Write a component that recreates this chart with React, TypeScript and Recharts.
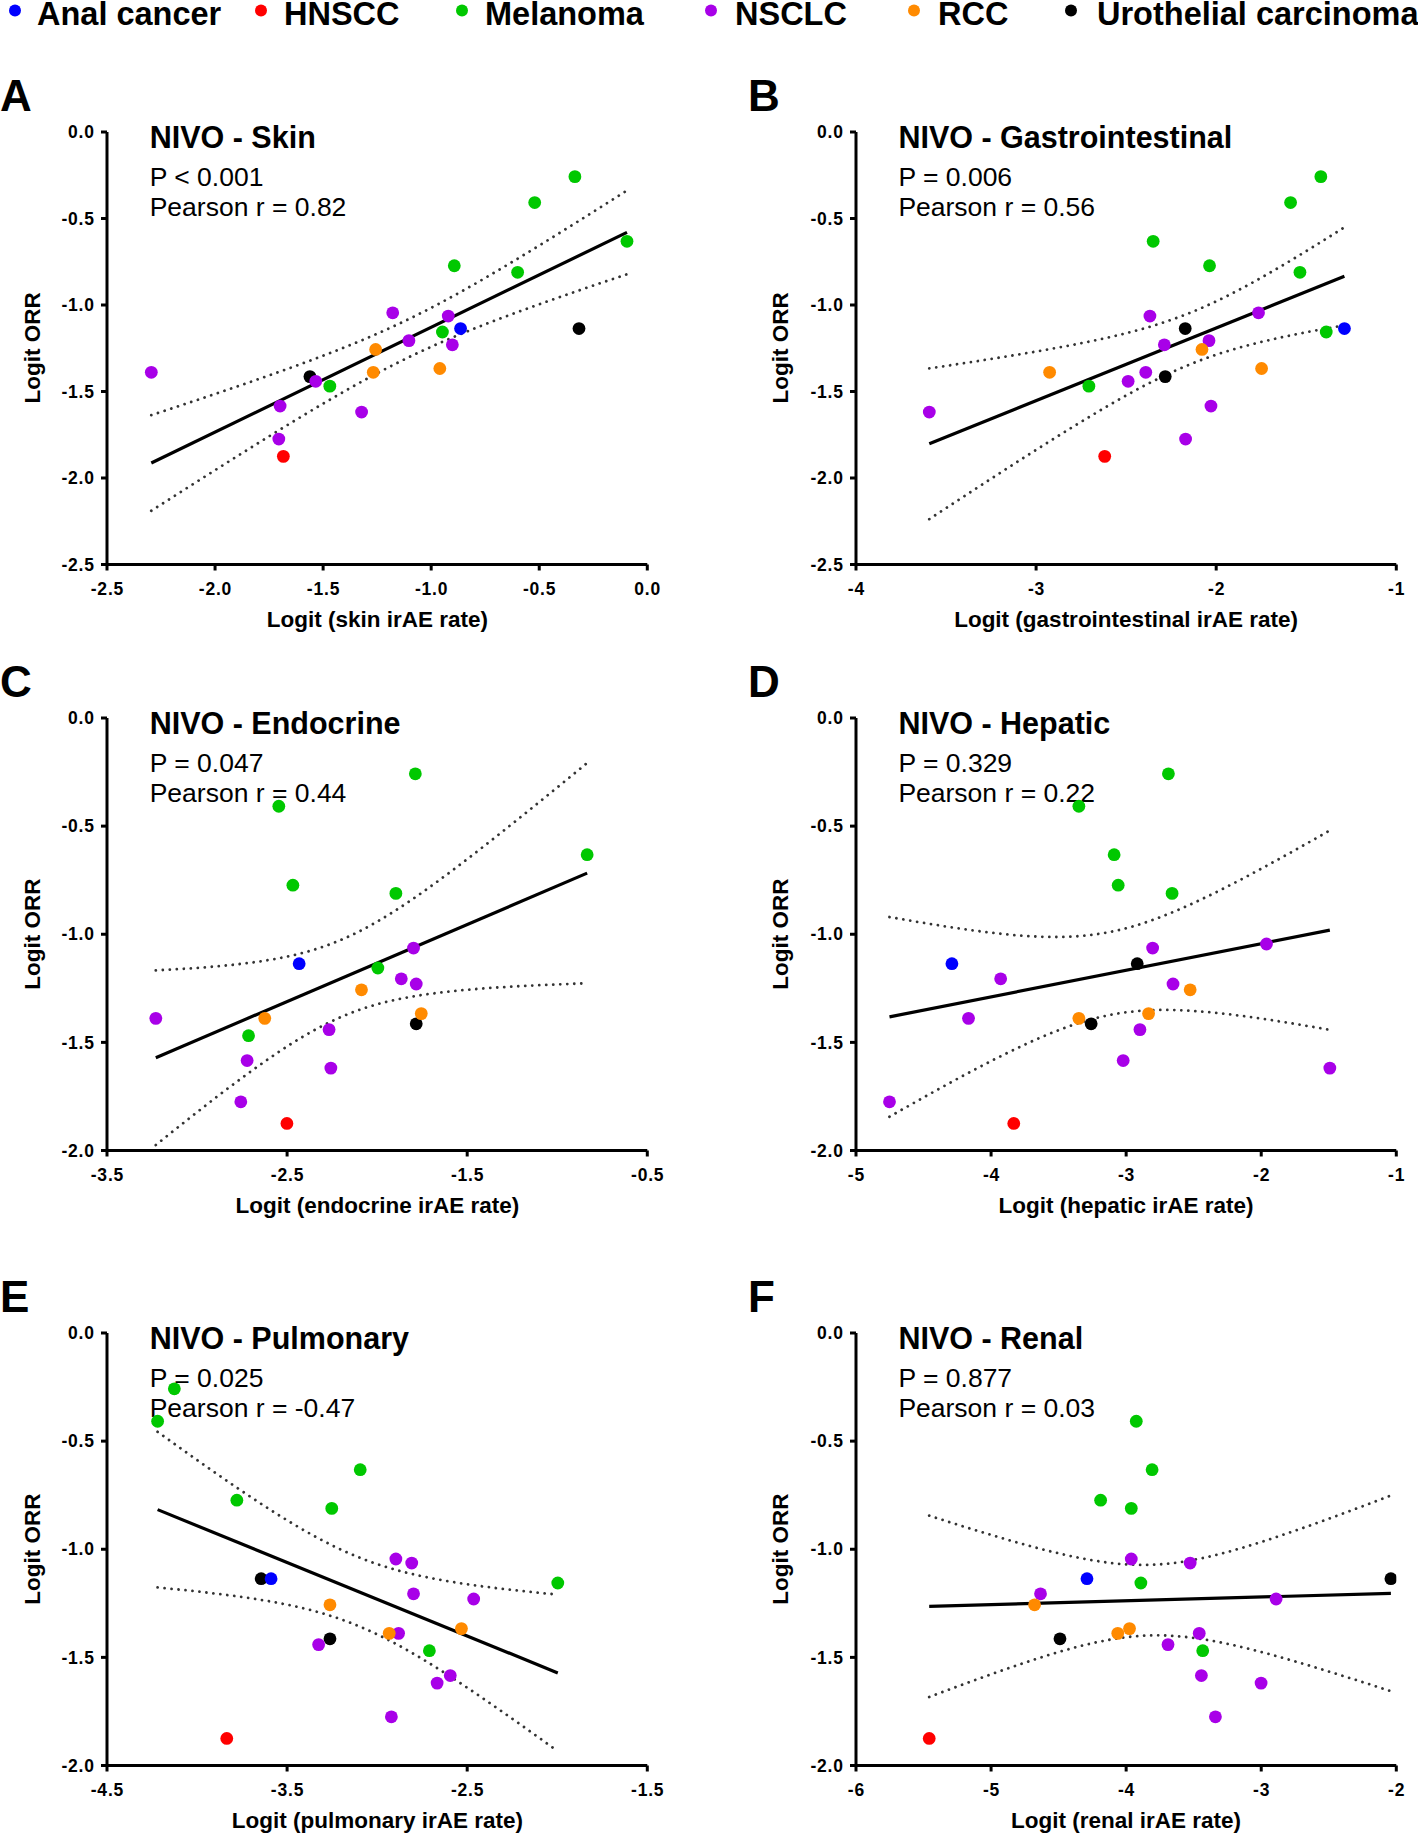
import React from 'react';
import { ScatterChart, Scatter, XAxis, YAxis } from 'recharts';

// ---------- DATA ----------
const GROUPS = ['Anal cancer', 'HNSCC', 'Melanoma', 'NSCLC', 'RCC', 'Urothelial carcinoma'];
const GROUP_COLORS = ['#0000FF', '#FF0000', '#00C800', '#A800E8', '#FF8A00', '#000000'];
// drawing order of the groups (black underneath)
const DRAW_ORDER = ['Urothelial carcinoma', 'Anal cancer', 'HNSCC', 'Melanoma', 'NSCLC', 'RCC'];

// one entry per trial
const TRIAL_GROUP = [
  'NSCLC', 'NSCLC', 'NSCLC', 'NSCLC', 'NSCLC', 'NSCLC', 'NSCLC', 'NSCLC', 'NSCLC',
  'Melanoma', 'Melanoma', 'Melanoma', 'Melanoma', 'Melanoma', 'Melanoma', 'Melanoma',
  'RCC', 'RCC', 'RCC',
  'Urothelial carcinoma', 'Urothelial carcinoma',
  'HNSCC',
  'Anal cancer',
];
const LOGIT_ORR = [
  -1.389, -1.441, -1.584, -1.775, -1.619, -1.045, -1.206, -1.064, -1.230,
  -1.469, -1.156, -0.773, -0.811, -0.408, -0.258, -0.632,
  -1.257, -1.389, -1.367,
  -1.414, -1.136,
  -1.875,
  -1.136,
];
const SKIN_X = [
  -2.295, -1.534, -1.699, -1.705, -1.322, -1.178, -1.103, -0.921, -0.902,
  -1.469, -0.948, -0.893, -0.600, -0.521, -0.335, -0.094,
  -1.257, -1.268, -0.960,
  -1.561, -0.316,
  -1.684,
  -0.864,
];
const GI_X = [
  -2.391, -2.489, -2.029, -2.170, -3.593, -1.765, -2.040, -2.368, -2.288,
  -2.707, -1.389, -2.037, -1.535, -1.587, -1.419, -2.350,
  -2.079, -2.925, -1.748,
  -2.283, -2.172,
  -2.619,
  -1.288,
];
const ENDO_X = [
  -3.229, -2.267, -2.722, -2.757, -2.257, null, -1.866, -1.798, -1.783,
  -2.714, -1.996, -2.468, -1.896, -2.546, -1.788, -0.834,
  -2.087, -2.624, -1.755,
  -1.783, null,
  -2.501,
  -2.433,
];
const HEP_X = [
  -4.167, -2.898, -3.022, -4.752, -1.492, -1.961, -3.929, -2.804, -2.653,
  null, null, -3.059, -2.660, -3.350, -2.687, -3.089,
  -2.526, -3.350, -2.834,
  -3.259, -2.918,
  -3.832,
  -4.290,
];
const PULM_X = [
  -2.881, -3.325, -2.594, -2.921, -2.667, -2.896, -2.798, -2.808, -2.464,
  -2.710, -1.997, -3.779, -3.252, -4.219, -4.126, -3.094,
  -3.262, -2.933, -2.532,
  -3.262, -3.644,
  -3.835,
  -3.589,
];
const RENAL_X = [
  -3.459, -3.690, -3.443, -3.339, -3.001, -3.962, -4.634, -3.526, -2.890,
  -3.433, -3.891, -4.189, -3.962, -3.925, null, -3.808,
  -4.678, -4.062, -3.975,
  -4.490, -2.040,
  -5.458,
  -4.290,
];

const X_TICKS_SKIN = [-2.5, -2, -1.5, -1, -0.5, 0];
const X_TICKS_GI = [-4, -3, -2, -1];
const X_TICKS_ENDO = [-3.5, -2.5, -1.5, -0.5];
const X_TICKS_HEP = [-5, -4, -3, -2, -1];
const X_TICKS_PULM = [-4.5, -3.5, -2.5, -1.5];
const X_TICKS_RENAL = [-6, -5, -4, -3, -2];
const Y_TICKS_TOP = [0, -0.5, -1, -1.5, -2, -2.5];
const Y_TICKS_LOW = [0, -0.5, -1, -1.5, -2];

const PANEL_LETTERS = ['A', 'B', 'C', 'D', 'E', 'F'];
const PANEL_TITLES = ['NIVO - Skin', 'NIVO - Gastrointestinal', 'NIVO - Endocrine', 'NIVO - Hepatic', 'NIVO - Pulmonary', 'NIVO - Renal'];
const P_TEXT = ['P < 0.001', 'P = 0.006', 'P = 0.047', 'P = 0.329', 'P = 0.025', 'P = 0.877'];
const R_TEXT = ['Pearson r = 0.82', 'Pearson r = 0.56', 'Pearson r = 0.44', 'Pearson r = 0.22', 'Pearson r = -0.47', 'Pearson r = 0.03'];
const X_LABELS = [
  'Logit (skin irAE rate)',
  'Logit (gastrointestinal irAE rate)',
  'Logit (endocrine irAE rate)',
  'Logit (hepatic irAE rate)',
  'Logit (pulmonary irAE rate)',
  'Logit (renal irAE rate)',
];
const PANEL_X = [SKIN_X, GI_X, ENDO_X, HEP_X, PULM_X, RENAL_X];
const PANEL_X_TICKS = [X_TICKS_SKIN, X_TICKS_GI, X_TICKS_ENDO, X_TICKS_HEP, X_TICKS_PULM, X_TICKS_RENAL];
const PANEL_X_DIGITS = [1, 0, 1, 0, 1, 0];
const PANEL_Y_TICKS = [Y_TICKS_TOP, Y_TICKS_TOP, Y_TICKS_LOW, Y_TICKS_LOW, Y_TICKS_LOW, Y_TICKS_LOW];

// two-sided 95% t critical values by degrees of freedom
const T975: Record<number, number> = { 18: 2.101, 19: 2.093, 20: 2.086, 21: 2.080, 22: 2.074 };

// ---------- LAYOUT ----------
const FONT = "'Liberation Sans', Arial, Helvetica, sans-serif";
const COL_LEFT = [107.2, 855.9];
const ROW_TOP = [131.7, 717.8, 1332.8];
const PLOT_W = 540.3;
const PLOT_H = 432.5;
const LEGEND_DOT_X = [15, 261, 462, 711, 914, 1071];
const LEGEND_TEXT_X = [37, 284, 485, 735, 938, 1097];
const TICK_FONT = 17.5;
const TICK_SPACING = 0.8;

function fitLine(xs: (number | null)[], ys: number[]) {
  const pts: [number, number][] = [];
  xs.forEach((x, i) => {
    if (x !== null && x !== undefined) pts.push([x, ys[i]]);
  });
  const n = pts.length;
  const mx = pts.reduce((s, p) => s + p[0], 0) / n;
  const my = pts.reduce((s, p) => s + p[1], 0) / n;
  let sxx = 0, sxy = 0, syy = 0;
  pts.forEach(([x, y]) => {
    sxx += (x - mx) * (x - mx);
    sxy += (x - mx) * (y - my);
    syy += (y - my) * (y - my);
  });
  const b = sxy / sxx;
  const a = my - b * mx;
  const s = Math.sqrt((syy - b * sxy) / (n - 2));
  const t = T975[n - 2] ?? 2.08;
  const xmin = Math.min(...pts.map((p) => p[0]));
  const xmax = Math.max(...pts.map((p) => p[0]));
  const line = [
    { x: xmin, y: a + b * xmin },
    { x: xmax, y: a + b * xmax },
  ];
  const upper: { x: number; y: number }[] = [];
  const lower: { x: number; y: number }[] = [];
  const steps = 80;
  for (let k = 0; k <= steps; k++) {
    const x = xmin + ((xmax - xmin) * k) / steps;
    const yh = a + b * x;
    const se = s * Math.sqrt(1 / n + ((x - mx) * (x - mx)) / sxx);
    upper.push({ x, y: yh + t * se });
    lower.push({ x, y: yh - t * se });
  }
  return { line, upper, lower };
}

const noShape = () => <g />;

const makeXTick = (digits: number) => (props: any) => {
  const { x, y, payload } = props;
  return (
    <text
      x={x + TICK_SPACING / 2}
      y={y + 11.8}
      textAnchor="middle"
      fontSize={TICK_FONT}
      fontWeight={700}
      letterSpacing={TICK_SPACING}
      fill="#000"
      fontFamily={FONT}
    >
      {Number(payload.value).toFixed(digits)}
    </text>
  );
};

const yTick = (props: any) => {
  const { x, y, payload } = props;
  return (
    <text
      x={x + TICK_SPACING}
      y={y + 6.2}
      textAnchor="end"
      fontSize={TICK_FONT}
      fontWeight={700}
      letterSpacing={TICK_SPACING}
      fill="#000"
      fontFamily={FONT}
    >
      {Number(payload.value).toFixed(1)}
    </text>
  );
};

function Panel({ idx }: { idx: number }) {
  const col = idx % 2;
  const row = Math.floor(idx / 2);
  const L = COL_LEFT[col];
  const T = ROW_TOP[row];
  const xs = PANEL_X[idx];
  const xTicks = PANEL_X_TICKS[idx];
  const yTicks = PANEL_Y_TICKS[idx];
  const fit = fitLine(xs, LOGIT_ORR);
  const ML = 7, YW = 100, MT = 20, MR = 20, XH = 90;
  const width = PLOT_W + ML + YW + MR;
  const height = PLOT_H + MT + XH;
  const groupData = (g: string) =>
    xs
      .map((x, i) => ({ x, y: LOGIT_ORR[i], g: TRIAL_GROUP[i] }))
      .filter((d) => d.g === g && d.x !== null && d.x !== undefined);
  return (
    <div style={{ position: 'absolute', left: L - ML - YW, top: T - MT, width, height }}>
      <ScatterChart width={width} height={height} margin={{ top: MT, right: MR, bottom: 0, left: ML }}>
        <XAxis
          type="number"
          dataKey="x"
          domain={[xTicks[0], xTicks[xTicks.length - 1]]}
          ticks={xTicks}
          interval={0}
          allowDataOverflow
          height={XH}
          tickSize={6}
          tickMargin={13}
          tick={makeXTick(PANEL_X_DIGITS[idx])}
          axisLine={{ stroke: '#000', strokeWidth: 3 }}
          tickLine={{ stroke: '#000', strokeWidth: 3 }}
        />
        <YAxis
          type="number"
          dataKey="y"
          domain={[yTicks[yTicks.length - 1], 0]}
          ticks={yTicks}
          interval={0}
          allowDataOverflow
          width={YW}
          tickSize={6}
          tickMargin={7}
          tick={yTick}
          axisLine={{ stroke: '#000', strokeWidth: 3 }}
          tickLine={{ stroke: '#000', strokeWidth: 3 }}
        />
        <Scatter
          data={fit.upper}
          shape={noShape}
          line={{ stroke: '#333', strokeWidth: 2.8, strokeDasharray: '0.01 7', strokeLinecap: 'round' }}
          isAnimationActive={false}
        />
        <Scatter
          data={fit.lower}
          shape={noShape}
          line={{ stroke: '#333', strokeWidth: 2.8, strokeDasharray: '0.01 7', strokeLinecap: 'round' }}
          isAnimationActive={false}
        />
        <Scatter
          data={fit.line}
          shape={noShape}
          line={{ stroke: '#000', strokeWidth: 3.2 }}
          isAnimationActive={false}
        />
        {DRAW_ORDER.map((g) => {
          const color = GROUP_COLORS[GROUPS.indexOf(g)];
          return (
            <Scatter
              key={g}
              name={g}
              data={groupData(g)}
              fill={color}
              isAnimationActive={false}
              shape={(p: any) => <circle cx={p.cx} cy={p.cy} r={6.4} fill={color} />}
            />
          );
        })}
      </ScatterChart>
    </div>
  );
}

function Overlay() {
  return (
    <svg
      width={1418}
      height={1835}
      style={{ position: 'absolute', left: 0, top: 0, fontFamily: FONT }}
    >
      {GROUPS.map((g, i) => (
        <g key={g}>
          <circle cx={LEGEND_DOT_X[i]} cy={10.5} r={6} fill={GROUP_COLORS[i]} />
          <text x={LEGEND_TEXT_X[i]} y={24.5} fontSize={32.5} fontWeight={700} fill="#000">
            {g}
          </text>
        </g>
      ))}
      {PANEL_LETTERS.map((letter, idx) => {
        const col = idx % 2;
        const row = Math.floor(idx / 2);
        const L = COL_LEFT[col];
        const T = ROW_TOP[row];
        return (
          <g key={letter}>
            <text x={col === 0 ? 0 : 748} y={T - 20.5} fontSize={44} fontWeight={700} fill="#000">
              {letter}
            </text>
            <text x={L + 42.5} y={T + 16} fontSize={30.5} fontWeight={700} fill="#000">
              {PANEL_TITLES[idx]}
            </text>
            <text x={L + 42.5} y={T + 54} fontSize={26.5} fill="#000">
              {P_TEXT[idx]}
            </text>
            <text x={L + 42.5} y={T + 84.6} fontSize={26.5} fill="#000">
              {R_TEXT[idx]}
            </text>
            <text
              x={L + PLOT_W / 2}
              y={T + PLOT_H + 63}
              fontSize={22.5}
              fontWeight={700}
              textAnchor="middle"
              fill="#000"
            >
              {X_LABELS[idx]}
            </text>
            <text
              transform={`translate(${L - 67.7}, ${T + PLOT_H / 2}) rotate(-90)`}
              fontSize={22.5}
              fontWeight={700}
              textAnchor="middle"
              fill="#000"
            >
              Logit ORR
            </text>
          </g>
        );
      })}
    </svg>
  );
}

export default function App() {
  return (
    <div style={{ position: 'absolute', left: 0, top: 0, width: 1418, height: 1835, background: '#fff', overflow: 'hidden' }}>
      <Overlay />
      {PANEL_LETTERS.map((l, idx) => (
        <Panel key={l} idx={idx} />
      ))}
    </div>
  );
}
